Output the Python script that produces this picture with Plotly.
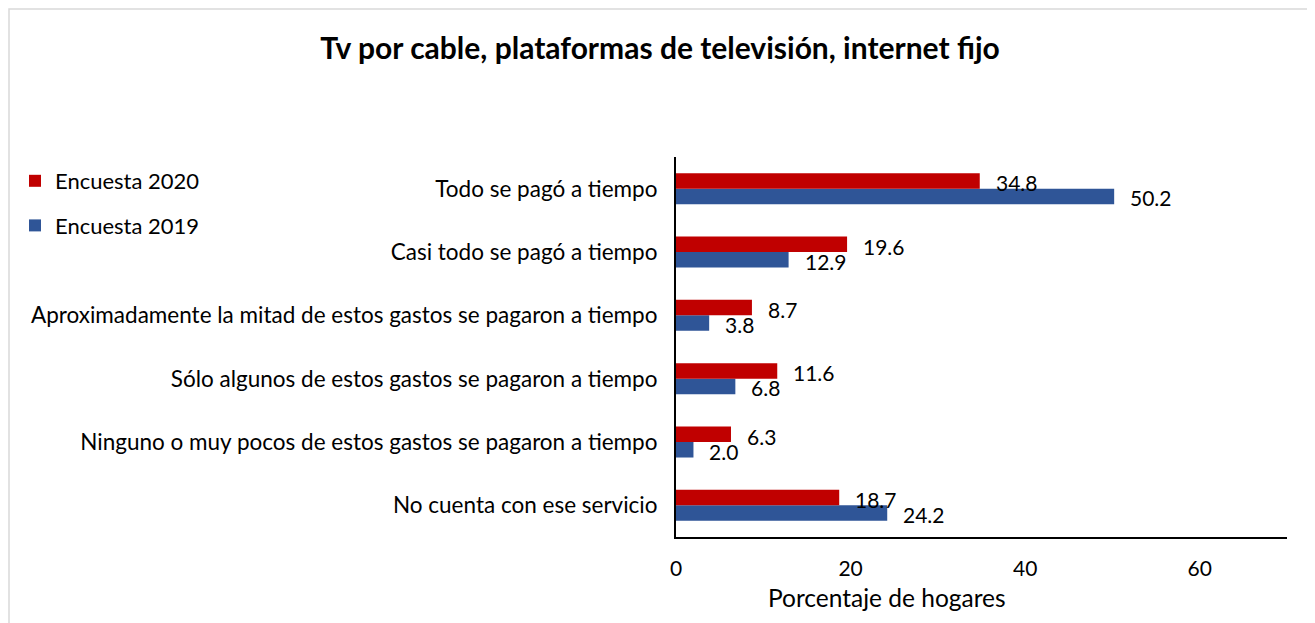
import plotly.graph_objects as go

categories = [
    "Todo se pagó a tiempo",
    "Casi todo se pagó a tiempo",
    "Aproximadamente la mitad de estos gastos se pagaron a tiempo",
    "Sólo algunos de estos gastos se pagaron a tiempo",
    "Ninguno o muy pocos de estos gastos se pagaron a tiempo",
    "No cuenta con ese servicio",
]
enc_2020 = [34.8, 19.6, 8.7, 11.6, 6.3, 18.7]
enc_2019 = [50.2, 12.9, 3.8, 6.8, 2.0, 24.2]
x_ticks = [0, 20, 40, 60]

title_text = "Tv por cable, plataformas de televisión, internet fijo"
x_title = "Porcentaje de hogares"

FONT = "Lato"
RED = "#C00000"
BLUE = "#2F5597"

# page body has an 8px margin; work in screen pixels and compensate
OFF = 8
SW, SH = 1315, 623
W, H = SW - OFF, SH - OFF
# plot area in screen pixels
PX0, PX1, PY0, PY1 = 676, 1287, 157, 537
L, R = PX0 - OFF, W - (PX1 - OFF)
T, B = PY0 - OFF, H - (PY1 - OFF)
pw, ph = PX1 - PX0, PY1 - PY0


def px_x(p):
    return (p - PX0) / pw


def px_y(p):
    return (PY1 - p) / ph


fig = go.Figure()
fig.add_trace(go.Bar(
    y=categories, x=enc_2019, orientation="h", name="Encuesta 2019",
    marker=dict(color=BLUE, line=dict(width=0)), legendgroup="a",
    legendrank=2, hoverinfo="x+y",
))
fig.add_trace(go.Bar(
    y=categories, x=enc_2020, orientation="h", name="Encuesta 2020",
    marker=dict(color=RED, line=dict(width=0)), legendgroup="b",
    legendrank=1, hoverinfo="x+y",
))

annotations = []
for cat, v in zip(categories, enc_2020):
    annotations.append(dict(x=v, y=cat, xref="x", yref="y", text=f"{v:.1f}",
                            showarrow=False, xanchor="left", yanchor="middle",
                            xshift=14, yshift=6,
                            font=dict(family=FONT, size=21, color="black")))
for cat, v in zip(categories, enc_2019):
    annotations.append(dict(x=v, y=cat, xref="x", yref="y", text=f"{v:.1f}",
                            showarrow=False, xanchor="left", yanchor="middle",
                            xshift=14, yshift=-9,
                            font=dict(family=FONT, size=21, color="black")))
annotations.append(dict(x=px_x(887), y=px_y(597), xref="paper", yref="paper",
                        text=x_title, showarrow=False, xanchor="center",
                        yanchor="middle",
                        font=dict(family=FONT, size=24.5, color="black")))

fig.update_layout(
    width=W, height=H,
    margin=dict(l=L, r=R, t=T, b=B, autoexpand=False),
    paper_bgcolor="white", plot_bgcolor="white",
    barmode="group", bargap=0.51, bargroupgap=0,
    title=dict(text=f"<b>{title_text}</b>", x=(660 - OFF) / W, xanchor="center",
               y=1 - (48 - OFF) / H, yanchor="middle", xref="container",
               yref="container",
               font=dict(family=FONT, size=30, color="black")),
    font=dict(family=FONT, size=22, color="black"),
    legend=dict(x=px_x(15), y=px_y(160), xanchor="left", yanchor="top",
                traceorder="grouped", tracegroupgap=13,
                font=dict(family=FONT, size=22, color="black"),
                bgcolor="rgba(0,0,0,0)", itemclick=False),
    xaxis=dict(range=[0, 70], tickvals=x_ticks, ticks="", showgrid=False,
               zeroline=False, showline=True, linecolor="black", linewidth=2,
               ticklabelstandoff=12,
               tickfont=dict(family=FONT, size=21, color="black"),
               fixedrange=True),
    yaxis=dict(categoryorder="array", categoryarray=list(reversed(categories)),
               ticks="", showgrid=False, zeroline=False, showline=True,
               linecolor="black", linewidth=2, ticklabelstandoff=12,
               tickfont=dict(family=FONT, size=22.5, color="black"),
               fixedrange=True),
    annotations=annotations,
    shapes=[dict(type="rect", xref="paper", yref="paper",
                 x0=px_x(9), x1=px_x(1313), y0=px_y(630), y1=px_y(9),
                 line=dict(color="#D9D9D9", width=1.5), fillcolor="rgba(0,0,0,0)",
                 layer="below")],
)

fig.write_html("out.html")
